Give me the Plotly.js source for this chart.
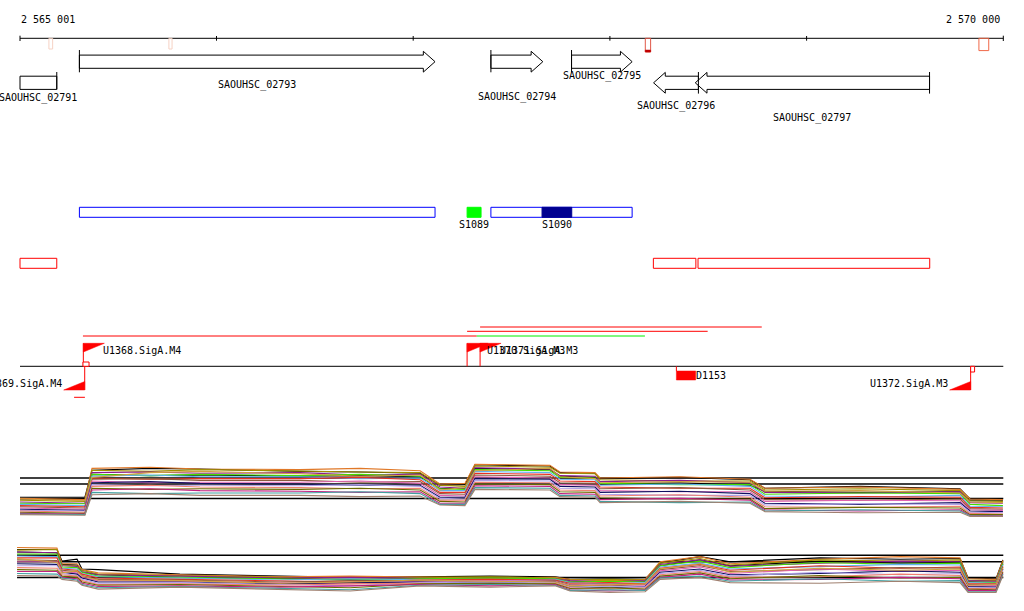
<!DOCTYPE html>
<html><head><meta charset="utf-8">
<script src="https://cdn.plot.ly/plotly-3.0.1.min.js"></script>
<style>html,body{margin:0;padding:0;background:#fff}#chart{width:1024px;height:611px}</style>
</head><body><div id="chart"></div>
<script>
// ================= DATA =================
const viewStart = 2565001, viewEnd = 2570000;
const axisTickPositions = [2565001, 2566000, 2567000, 2568000, 2569000, 2570000];
const axisEndLabels = ['2 565 001', '2 570 000'];

// genes
const geneNames   = ['SAOUHSC_02791','SAOUHSC_02793','SAOUHSC_02794','SAOUHSC_02795','SAOUHSC_02796','SAOUHSC_02797'];
const geneStarts  = [2564420, 2565303, 2567395, 2567805, 2568222, 2568434];
const geneEnds    = [2565188, 2567111, 2567659, 2568113, 2568450, 2569625];
const geneStrands = ['-', '+', '+', '+', '-', '-'];

// small marks on the coordinate axis
const axisMarkStarts = [2565148, 2565758, 2568180, 2569876];
const axisMarkEnds   = [2565167, 2565774, 2568207, 2569926];

// transcribed regions (blue) and small RNAs
const regionStarts = [2565303, 2567395];
const regionEnds   = [2567111, 2568113];
const srnaNames  = ['S1089', 'S1090'];
const srnaStarts = [2567274, 2567655];
const srnaEnds   = [2567345, 2567806];

// operons (red boxes)
const operonStarts = [2564420, 2568221, 2568448];
const operonEnds   = [2565188, 2568437, 2569626];

// transcripts from promoters
const transcriptStarts = [2565321, 2567274, 2567340, 2567323, 2565276];
const transcriptEnds   = [2567323, 2568497, 2568772, 2568178, 2565331];

// promoters
const promoterNames   = ['U1368.SigA.M4','U1369.SigA.M4','U1370.SigA.M3','U1371.SigA.M3','U1372.SigA.M3'];
const promoterPos     = [2565323, 2565330, 2567274, 2567340, 2569834];
const promoterStrands = ['+', '-', '+', '+', '-'];
const tssBoxStarts  = [2565321, 2569834];
const tssBoxEnds    = [2565352, 2569854];
const tssBoxStrands = ['+', '-'];

// terminator-like element
const elementNames  = ['D1153'];
const elementStarts = [2568338];
const elementEnds   = [2568436];

// expression panels
const refLevels = [12, 11, 8.6];
const panel1X = [2565001, 2565331, 2565367, 2565662, 2565916, 2566424, 2566730, 2567035, 2567136, 2567263, 2567314,
                 2567695, 2567746, 2567924, 2567950, 2568356, 2568712, 2568788, 2569271, 2569780, 2569831, 2569998];
const panel1Black = [
  [8.8, 8.8, 13.3, 13.6, 13.5, 13.1, 13.0, 12.8, 10.8, 10.9, 14.2, 14.0, 12.9, 12.8, 11.9, 12.1, 11.7, 10.3, 10.6, 10.2, 8.5, 8.4],
  [8.5, 8.4, 12.6, 12.4, 12.5, 12.3, 12.4, 12.2, 10.2, 10.3, 13.6, 13.4, 12.3, 12.1, 11.0, 11.2, 10.8, 9.8, 9.6, 9.7, 8.2, 8.2]
];
const panel1Values = [
  [8.6, 8.4, 13.6, 13.8, 13.5, 13.4, 13.6, 13.2, 11.0, 11.1, 14.3, 14.1, 13.0, 12.9, 12.0, 12.2, 11.8, 10.3, 10.5, 10.1, 8.5, 8.4],
  [8.3, 8.1, 13.3, 13.1, 13.4, 13.1, 13.0, 12.9, 10.8, 10.6, 14.0, 13.8, 12.8, 12.7, 11.7, 11.5, 11.5, 10.0, 10.2, 9.9, 8.2, 8.1],
  [8.0, 7.8, 12.9, 13.0, 12.8, 12.9, 12.5, 12.6, 10.5, 10.3, 13.7, 13.5, 12.4, 12.3, 11.4, 11.6, 11.2, 9.6, 9.5, 9.7, 7.9, 7.8],
  [7.8, 7.7, 12.6, 12.4, 12.6, 12.4, 12.6, 12.3, 10.2, 10.1, 13.4, 13.2, 12.1, 12.0, 11.1, 10.9, 10.9, 9.3, 9.5, 9.4, 7.6, 7.4],
  [7.6, 7.4, 12.3, 12.5, 12.2, 12.2, 11.9, 12.0, 9.9, 9.9, 13.1, 12.9, 11.8, 11.7, 10.8, 11.0, 10.6, 9.0, 8.8, 9.1, 7.3, 7.2],
  [7.4, 7.2, 12.0, 11.8, 11.9, 11.9, 12.1, 11.7, 9.6, 9.6, 12.8, 12.6, 11.5, 11.4, 10.5, 10.3, 10.3, 8.7, 8.9, 8.8, 7.1, 7.0],
  [7.2, 7.0, 11.8, 11.9, 11.6, 11.6, 11.3, 11.4, 9.4, 9.3, 12.5, 12.3, 11.2, 11.1, 10.2, 10.4, 10.0, 8.4, 8.3, 8.5, 6.9, 6.8],
  [7.0, 6.8, 11.5, 11.2, 11.3, 11.3, 11.5, 11.1, 9.1, 9.0, 12.2, 12.0, 10.9, 10.8, 9.9, 9.7, 9.7, 8.1, 8.3, 8.2, 6.7, 6.6],
  [6.8, 6.6, 11.2, 11.4, 11.1, 11.0, 10.8, 10.8, 8.8, 8.8, 11.9, 11.8, 10.6, 10.5, 9.6, 9.8, 9.4, 7.8, 7.6, 7.9, 6.5, 6.4],
  [6.6, 6.5, 10.9, 10.7, 10.8, 10.7, 10.9, 10.6, 8.6, 8.5, 11.6, 11.5, 10.3, 10.2, 9.3, 9.1, 9.1, 7.5, 7.7, 7.6, 6.3, 6.2],
  [6.5, 6.3, 10.6, 10.8, 10.5, 10.4, 10.2, 10.3, 8.3, 8.3, 11.3, 11.2, 10.0, 9.9, 9.0, 9.2, 8.8, 7.2, 7.1, 7.3, 6.1, 6.0],
  [6.3, 6.1, 10.3, 10.1, 10.2, 10.1, 10.3, 10.0, 8.1, 8.0, 11.0, 10.9, 9.7, 9.6, 8.7, 8.5, 8.5, 6.9, 7.1, 7.0, 5.9, 5.9],
  [6.1, 6.0, 10.0, 10.2, 9.9, 9.8, 9.6, 9.7, 7.8, 7.8, 10.7, 10.6, 9.4, 9.3, 8.4, 8.6, 8.3, 6.7, 6.5, 6.7, 5.8, 5.7],
  [6.0, 5.9, 9.6, 9.4, 9.5, 9.5, 9.7, 9.4, 7.6, 7.6, 10.4, 10.3, 9.1, 9.0, 8.1, 7.9, 8.0, 6.5, 6.7, 6.5, 5.7, 5.6],
  [5.9, 5.8, 9.2, 9.4, 9.1, 9.1, 8.9, 9.0, 7.5, 7.4, 10.1, 10.0, 8.9, 8.8, 7.9, 8.1, 7.8, 6.4, 6.2, 6.3, 5.6, 5.6],
  [8.5, 8.2, 12.1, 12.9, 13.1, 12.7, 12.3, 12.5, 10.0, 10.4, 13.2, 13.6, 12.2, 11.9, 11.2, 11.4, 11.3, 9.8, 9.9, 9.5, 8.0, 7.9]
];
const panel2X = [2564986, 2565189, 2565215, 2565291, 2565316, 2565398, 2565814, 2566323, 2566679, 2567035, 2567391, 2567721,
                 2567797, 2567999, 2568179, 2568255, 2568458, 2568611, 2569068, 2569475, 2569780, 2569821, 2569963, 2569998];
const panel2Black = [
  [12.9, 12.9, 11.1, 11.4, 9.9, 9.8, 9.1, 8.8, 8.6, 8.7, 8.8, 8.7, 8.3, 8.4, 8.3, 10.8, 11.8, 11.0, 11.6, 11.4, 11.5, 8.5, 8.4, 11.3],
  [12.5, 12.4, 10.6, 10.5, 9.4, 9.0, 8.6, 8.4, 8.3, 8.5, 8.6, 8.4, 7.9, 8.1, 8.0, 10.4, 11.3, 10.4, 11.1, 10.8, 10.9, 8.0, 8.1, 10.6]
];
const panel2Values = [
  [13.2, 13.1, 10.7, 10.7, 9.8, 9.3, 9.0, 8.7, 8.8, 8.6, 8.5, 8.6, 8.3, 8.1, 8.3, 11.0, 11.8, 10.7, 11.4, 11.8, 11.6, 8.4, 8.3, 11.2],
  [12.8, 12.9, 10.5, 10.4, 9.7, 9.1, 8.9, 8.6, 8.4, 8.6, 8.7, 8.5, 8.2, 8.3, 8.2, 10.8, 11.5, 10.5, 11.3, 11.1, 11.3, 8.2, 8.1, 11.0],
  [12.5, 12.4, 10.4, 10.3, 9.5, 9.0, 8.8, 8.5, 8.6, 8.5, 8.3, 8.4, 8.1, 7.9, 8.1, 10.6, 11.3, 10.3, 10.8, 11.1, 11.0, 8.1, 8.0, 10.8],
  [12.2, 12.2, 10.2, 10.1, 9.4, 8.8, 8.6, 8.3, 8.2, 8.4, 8.5, 8.4, 7.9, 8.0, 7.9, 10.4, 11.1, 10.1, 10.9, 10.6, 10.8, 7.9, 7.8, 10.7],
  [11.9, 11.8, 10.0, 9.9, 9.2, 8.7, 8.5, 8.2, 8.4, 8.3, 8.1, 8.3, 7.8, 7.6, 7.8, 10.2, 10.8, 9.9, 10.3, 10.6, 10.5, 7.8, 7.7, 10.5],
  [11.6, 11.6, 9.9, 9.7, 9.1, 8.5, 8.3, 8.0, 7.9, 8.2, 8.3, 8.2, 7.7, 7.8, 7.6, 10.0, 10.6, 9.7, 10.4, 10.0, 10.2, 7.6, 7.6, 10.3],
  [11.3, 11.2, 9.7, 9.5, 8.9, 8.3, 8.2, 7.9, 8.1, 8.1, 7.9, 8.1, 7.5, 7.3, 7.5, 9.8, 10.4, 9.5, 9.8, 10.1, 10.0, 7.5, 7.4, 10.2],
  [11.0, 11.0, 9.5, 9.3, 8.6, 8.1, 8.0, 7.8, 7.6, 8.0, 8.1, 8.0, 7.4, 7.5, 7.4, 9.6, 10.2, 9.2, 9.9, 9.5, 9.7, 7.3, 7.3, 10.0],
  [10.7, 10.6, 9.4, 9.1, 8.5, 7.9, 7.9, 7.6, 7.8, 7.9, 7.7, 7.9, 7.2, 7.0, 7.2, 9.4, 9.9, 9.0, 9.2, 9.6, 9.4, 7.2, 7.1, 9.9],
  [10.4, 10.4, 9.2, 8.9, 8.3, 7.7, 7.8, 7.5, 7.3, 7.8, 7.9, 7.8, 7.1, 7.2, 7.1, 9.2, 9.7, 8.8, 9.4, 9.0, 9.2, 7.0, 7.0, 9.7],
  [10.1, 10.0, 9.0, 8.8, 8.1, 7.5, 7.6, 7.4, 7.6, 7.7, 7.5, 7.7, 7.0, 6.8, 7.0, 9.0, 9.5, 8.6, 8.7, 9.1, 8.9, 6.9, 6.9, 9.5],
  [9.8, 9.7, 8.8, 8.6, 7.9, 7.4, 7.5, 7.2, 7.0, 7.6, 7.7, 7.6, 6.9, 7.0, 6.8, 8.8, 9.3, 8.4, 8.9, 8.5, 8.6, 6.8, 6.7, 9.4],
  [9.5, 9.5, 8.6, 8.4, 7.7, 7.2, 7.3, 7.1, 7.3, 7.5, 7.3, 7.5, 6.7, 6.5, 6.7, 8.6, 9.1, 8.2, 8.3, 8.6, 8.4, 6.6, 6.6, 9.2],
  [9.2, 9.1, 8.5, 8.2, 7.5, 7.0, 7.2, 6.9, 6.7, 7.4, 7.5, 7.4, 6.6, 6.7, 6.6, 8.5, 8.8, 8.0, 8.4, 8.0, 8.1, 6.4, 6.4, 9.1],
  [8.9, 8.8, 8.3, 8.0, 7.4, 6.8, 7.1, 6.8, 6.5, 7.3, 7.1, 7.3, 6.5, 6.3, 6.4, 8.3, 8.6, 7.8, 7.7, 8.0, 7.8, 6.3, 6.3, 8.9],
  [11.5, 10.9, 9.3, 9.6, 8.8, 8.2, 8.1, 7.7, 7.9, 8.2, 8.0, 7.9, 7.3, 7.5, 7.6, 9.9, 10.7, 9.4, 10.0, 9.7, 9.9, 7.4, 7.5, 10.1]
];

// ================= STYLE / LAYOUT =================
const seriesColors = ['#e07828','#a09000','#8c1c8c','#44dd00','#60b0f0','#e83020','#8b5a3c','#e060b0',
                      '#101060','#b0a0e8','#f08070','#6b6b00','#c02080','#40a0a0','#a08070','#d0a040'];
const axisMarkColors = ['#f6d2c4','#f6d2c4','#e05848','#f06848'];
const srnaColors = ['#00ff00', '#000090'];
const transcriptColors = ['#ff0000','#ff0000','#ff0000','#00ee00','#ff0000'];
const transcriptRows = [336, 331.3, 327, 336, 397.3];
const geneLabelRows = [97.5, 84.7, 97, 76, 106, 118];

const PX_L = 20, PX_R = 1003.3, W = 1024, H = 611;
const SCALE = (PX_R - PX_L) / (viewEnd - viewStart);
const bp = px => px / SCALE;
const xRange = [viewStart - bp(PX_L), viewStart + bp(W - PX_L)];
const FONT = {family: 'DejaVu Sans Mono, monospace', size: 10, color: '#000'};

const traces = [], shapes = [], annotations = [];
const line = (x0, x1, y0, y1, color, width) => shapes.push({type:'line', xref:'x', yref:'y', x0, x1, y0, y1, line:{color, width: width || 1}});
const rect = (x0, x1, y0, y1, color, fill, width) => shapes.push({type:'rect', xref:'x', yref:'y', x0, x1, y0, y1, line:{color, width: width === undefined ? 1 : width}, fillcolor: fill || 'rgba(0,0,0,0)'});
const label = (x, y, text, xanchor) => annotations.push({x, y, xref:'x', yref:'y', text, showarrow:false, xanchor: xanchor || 'center', yanchor:'middle', font: FONT, borderpad:0});
const clampX = g => Math.min(Math.max(g, viewStart), viewEnd);

// coordinate axis
const AXIS_Y = 38.3;
line(viewStart, viewEnd, AXIS_Y, AXIS_Y, '#000', 1);
axisTickPositions.forEach((t, i) => {
  const end = (i === 0 || i === axisTickPositions.length - 1);
  line(t, t, AXIS_Y - (end ? 2.6 : 2.3), AXIS_Y + (end ? 2.7 : 2.4), '#000', 1);
});
label(viewStart, 19.7, axisEndLabels[0], 'left');
label(viewEnd - bp(2), 19.7, axisEndLabels[1], 'right');
axisMarkStarts.forEach((s, i) => {
  const h = i === 2 ? 13.7 : (i === 3 ? 12.3 : 10.7);
  rect(s, axisMarkEnds[i], AXIS_Y, AXIS_Y + h, axisMarkColors[i], null, 1);
  if (i === 2) rect(s, axisMarkEnds[i], AXIS_Y + h - 2, AXIS_Y + h, '#c00000', '#c00000', 0.5);
});

// genes
const FWD_ROW = 61.7, REV_ROW = 82.8;
const HEAD = bp(11.7);
geneNames.forEach((name, i) => {
  const fwd = geneStrands[i] === '+';
  const c = fwd ? FWD_ROW : REV_ROW;
  const s = clampX(geneStarts[i]), e = clampX(geneEnds[i]);
  const bt = c - 6.6, bb = c + 6.6, ht = c - 10.4, hb = c + 10.4;
  let xs, ys;
  if (fwd) {
    if (geneEnds[i] <= viewEnd) {
      const h = Math.min(HEAD, e - s);
      xs = [s, e - h, e - h, e, e - h, e - h, s, s]; ys = [bt, bt, ht, c, hb, bb, bb, bt];
    } else { xs = [s, e, e, s, s]; ys = [bt, bt, bb, bb, bt]; }
    if (geneStarts[i] >= viewStart) line(s, s, c - 11.7, c + 10.6, '#000', 1);
  } else {
    if (geneStarts[i] >= viewStart) {
      const h = Math.min(HEAD, e - s);
      xs = [e, s + h, s + h, s, s + h, s + h, e, e]; ys = [bt, bt, ht, c, hb, bb, bb, bt];
    } else { xs = [s, e, e, s, s]; ys = [bt, bt, bb, bb, bt]; }
    if (geneEnds[i] <= viewEnd) line(e, e, c - 10.8, c + (geneStarts[i] >= viewStart ? 10.8 : 6.6), '#000', 1);
  }
  traces.push({x: xs, y: ys, xaxis:'x', yaxis:'y', mode:'lines', fill:'toself', fillcolor:'#fff',
               line:{color:'#000', width:1}, hoverinfo:'skip', showlegend:false});
  label((s + e) / 2, geneLabelRows[i], name, 'center');
});

// transcribed regions + sRNAs
const REG_T = 207.3, REG_B = 217.3;
regionStarts.forEach((s, i) => rect(s, regionEnds[i], REG_T, REG_B, '#0000ff', '#fff', 1));
srnaNames.forEach((n, i) => {
  rect(srnaStarts[i], srnaEnds[i], REG_T, REG_B, srnaColors[i], srnaColors[i], 1);
  label((srnaStarts[i] + srnaEnds[i]) / 2, 224, n, 'center');
});

// operons
operonStarts.forEach((s, i) => rect(clampX(s), operonEnds[i], 258.3, 268.3, '#ff0000', null, 1));

// transcripts
transcriptStarts.forEach((s, i) => line(s, transcriptEnds[i], transcriptRows[i], transcriptRows[i], transcriptColors[i], 1));

// promoter track
const BASE = 366.3;
line(viewStart, viewEnd, BASE, BASE, '#000', 1);
const FLAG_W = bp(21);
promoterNames.forEach((n, i) => {
  const p = promoterPos[i];
  if (promoterStrands[i] === '+') {
    line(p, p, 343.3, BASE, '#ff0000', 1);
    traces.push({x:[p, p + FLAG_W, p, p], y:[343.3, 343.3, 352, 343.3], mode:'lines', fill:'toself',
                 fillcolor:'#ff0000', line:{color:'#ff0000', width:0.5}, hoverinfo:'skip', showlegend:false});
    label(p + bp(18.5), 350.3, n, 'left');
  } else {
    line(p, p, BASE, 390, '#ff0000', 1);
    traces.push({x:[p, p - FLAG_W, p, p], y:[390, 390, 381.5, 390], mode:'lines', fill:'toself',
                 fillcolor:'#ff0000', line:{color:'#ff0000', width:0.5}, hoverinfo:'skip', showlegend:false});
    label(p - bp(21.5), 383, n, 'right');
  }
});
tssBoxStarts.forEach((s, i) => {
  if (tssBoxStrands[i] === '+') rect(s, tssBoxEnds[i], 362, BASE, '#ff0000', '#fff', 1);
  else rect(s, tssBoxEnds[i], BASE, 372, '#ff0000', '#fff', 1);
});
elementNames.forEach((n, i) => {
  line(elementStarts[i], elementStarts[i], BASE, 371, '#ff0000', 1);
  rect(elementStarts[i], elementEnds[i], 371, 380, '#ff0000', '#ff0000', 0.5);
  label(elementEnds[i] - bp(1), 375.2, n, 'left');
});

// expression panels
function panel(xs, values, blacks, yaxis) {
  const xr = [xs[0], viewEnd];
  refLevels.forEach(v => traces.push({x: xr, y: [v, v], xaxis:'x', yaxis, mode:'lines',
    line:{color:'#000', width:1.5}, hoverinfo:'skip', showlegend:false}));
  blacks.forEach(vals => traces.push({x: xs, y: vals, xaxis:'x', yaxis, mode:'lines',
    line:{color:'#000', width:1.1}, hoverinfo:'skip', showlegend:false}));
  values.forEach((vals, k) => traces.push({x: xs, y: vals, xaxis:'x', yaxis, mode:'lines',
    line:{color: seriesColors[k % seriesColors.length], width:1.1}, hoverinfo:'skip', showlegend:false}));
}
panel(panel1X, panel1Values, panel1Black, 'y2');
panel(panel2X, panel2Values, panel2Black, 'y3');

const layout = {
  width: W, height: H, margin:{l:0, r:0, t:0, b:0, pad:0},
  paper_bgcolor:'#fff', plot_bgcolor:'rgba(0,0,0,0)', showlegend:false,
  xaxis:{range:xRange, visible:false, domain:[0,1], fixedrange:true},
  yaxis:{range:[H, 0], visible:false, domain:[0,1], fixedrange:true},
  yaxis2:{range:[3, 15], visible:false, anchor:'x', domain:[1 - 532/H, 1 - 460/H]},
  yaxis3:{range:[5.5, 14], visible:false, anchor:'x', domain:[1 - 597.55/H, 1 - 542.3/H]},
  shapes, annotations
};
Plotly.newPlot('chart', traces, layout, {staticPlot:true, displayModeBar:false});
</script>
</body></html>
